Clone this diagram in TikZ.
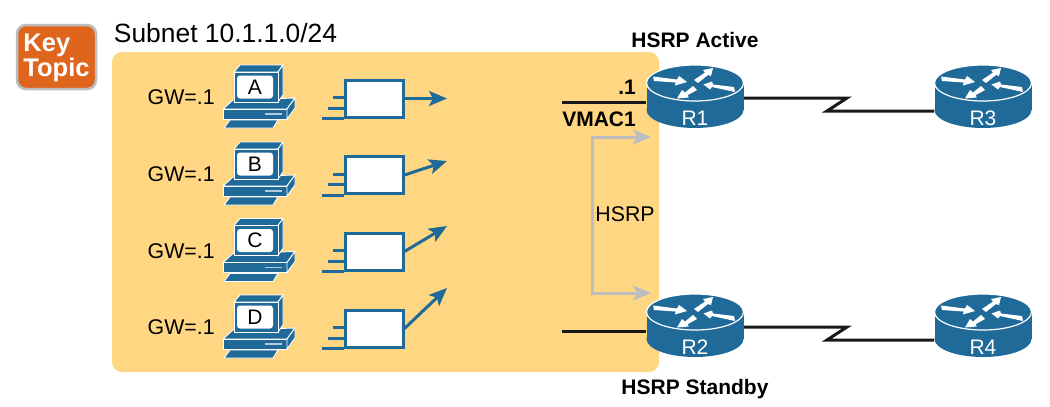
\documentclass[tikz,border=0pt]{standalone}
\usepackage{fontspec}
\setmainfont{Liberation Sans}
\usetikzlibrary{positioning,arrows.meta,calc}

\definecolor{ciscoblue}{HTML}{1F6A99}
\definecolor{subnetfill}{HTML}{FFD681}
\definecolor{keyorange}{HTML}{DF651D}
\definecolor{hsrpgray}{HTML}{BBBDC0}

\begin{document}
\begin{tikzpicture}[
  x=1pt,y=-1pt,
  txt/.style={font=\fontsize{21.3}{24}\selectfont,inner sep=0pt},
  boldtxt/.style={font=\fontsize{21}{24}\selectfont\bfseries,inner sep=0pt},
  subnet/.style={fill=subnetfill,rounded corners=10pt},
  keytopic/.style={fill=keyorange,draw=hsrpgray,line width=2.5pt,rounded corners=9pt,minimum width=79pt,minimum height=64pt,inner sep=0pt},
  keytxt/.style={text=white,align=left,inner sep=0pt,font=\fontsize{25.5}{25}\selectfont\bfseries},
  frm/.style={draw=ciscoblue,fill=white,line width=3pt,minimum width=58pt,minimum height=37pt,inner sep=0pt},
  tail/.style={draw=ciscoblue,line width=3pt},
  flow/.style={draw=ciscoblue,line width=3pt,-{Stealth[length=18pt,width=15pt,inset=4pt]}},
  hello/.style={draw=hsrpgray,line width=3pt,{Stealth[length=18pt,width=15pt,inset=4pt]}-{Stealth[length=18pt,width=15pt,inset=4pt]}},
  wire/.style={draw=black!90,line width=3pt},
  pics/router/.style={code={
    \fill[ciscoblue] (0,27) ellipse [x radius=48.5pt,y radius=18pt];
    \fill[ciscoblue] (-48.5,0) rectangle (48.5,27);
    \draw[fill=ciscoblue,draw=white,line width=1.2pt] (0,0) ellipse [x radius=48.5pt,y radius=18pt];
    % the four arrows on the lid
    \fill[white] (-42,-6.5) -- (-18,-3.5) -- (-16,-7) -- (-8,-1) -- (-20,2.5) -- (-19.5,-0.5) -- (-41,-2) -- cycle;
    \fill[white] (-1,-3) -- (10,-10.5) -- (8,-13) -- (18,-15) -- (16,-7) -- (13,-8) -- (3,0) -- cycle;
    \fill[white] (39,4) -- (18,1.5) -- (17,-1.5) -- (8.5,1.5) -- (15,6.5) -- (17,4) -- (40,9) -- cycle;
    \fill[white] (-2,3) -- (-10,9.5) -- (-13,7) -- (-18,15.5) -- (-6.5,14.5) -- (-7,12) -- (2,7) -- cycle;
    \node[text=white,font=\fontsize{21}{24}\selectfont,inner sep=0pt] (-lbl) at (0,35) {#1};
    \coordinate (-top) at (0,-18);
    \coordinate (-bot) at (0,45);
    \coordinate (-lan) at (-49,19);
    \coordinate (-wan) at (49,15);
    \coordinate (-far) at (-49,28);
  }},
  pics/pcbox/.style={code={
    % base and keyboard
    \draw[fill=ciscoblue,draw=white,line width=.9pt] (-32,22) -- (-22,13) -- (40,11) -- (32,22) -- cycle;
    \draw[fill=ciscoblue,draw=white,line width=.9pt] (-32,22) rectangle (32,32);
    \draw[fill=ciscoblue,draw=white,line width=.9pt] (32,22) -- (40,11) -- (40,21) -- (32,32) -- cycle;
    \draw[ciscoblue!35,line width=1.5pt] (10,27) -- (27,27);
    \draw[fill=ciscoblue,draw=white,line width=.9pt] (-31,41) -- (-25,33) -- (23,33) -- (18,41) -- cycle;
    % monitor
    \draw[fill=ciscoblue,draw=white,line width=.9pt] (-21,-15) -- (-15,-22) -- (28,-22) -- (23,-15) -- cycle;
    \draw[fill=ciscoblue,draw=white,line width=.9pt] (23,-15) -- (28,-22) -- (28,8) -- (23,15) -- cycle;
    \draw[fill=ciscoblue,draw=white,line width=.9pt] (-21,-15) rectangle (23,15);
    \node[fill=white,rounded corners=3pt,minimum width=36pt,minimum height=23pt,inner sep=0pt,
          font=\fontsize{21}{24}\selectfont] (-scr) at (0,0) {#1};
  }},
]

% ===== subnet and key topic =====
\node[keytopic] (key) at (56.5,57) {};
\node[keytxt] (keyL) at (56.5,57.5) {Key\\Topic};
\node[inner sep=0pt,font=\fontsize{26.4}{30}\selectfont] (subT) at (225.5,33) {Subnet 10.1.1.0/24};
\fill[subnet] (112,52) rectangle (659,372);

% ===== hosts =====
\pic (pcA) at (255,87) {pcbox=A};
\pic (pcB) at (255,164) {pcbox=B};
\pic (pcC) at (255,240.5) {pcbox=C};
\pic (pcD) at (255,317) {pcbox=D};
\node[txt,left=22pt of pcA-scr,yshift=-10.5pt] (gwA) {GW=.1};
\node[txt,left=22pt of pcB-scr,yshift=-10.5pt] (gwB) {GW=.1};
\node[txt,left=22pt of pcC-scr,yshift=-10.5pt] (gwC) {GW=.1};
\node[txt,left=22pt of pcD-scr,yshift=-10.5pt] (gwD) {GW=.1};

% ===== frames =====
\node[frm] (frmA) at (374,98.5) {};
\node[frm] (frmB) at (374,175) {};
\node[frm] (frmC) at (374,251.5) {};
\node[frm] (frmD) at (374,328.5) {};
\draw[tail] (frmA.south west) -- ++(-22,0);
\draw[tail] ($(frmA.south west)+(0,-10.5)$) -- ++(-16,0);
\draw[tail] ($(frmA.south west)+(0,-21)$) -- ++(-11,0);
\draw[tail] (frmB.south west) -- ++(-22,0);
\draw[tail] ($(frmB.south west)+(0,-10.5)$) -- ++(-16,0);
\draw[tail] ($(frmB.south west)+(0,-21)$) -- ++(-11,0);
\draw[tail] (frmC.south west) -- ++(-22,0);
\draw[tail] ($(frmC.south west)+(0,-10.5)$) -- ++(-16,0);
\draw[tail] ($(frmC.south west)+(0,-21)$) -- ++(-11,0);
\draw[tail] (frmD.south west) -- ++(-22,0);
\draw[tail] ($(frmD.south west)+(0,-10.5)$) -- ++(-16,0);
\draw[tail] ($(frmD.south west)+(0,-21)$) -- ++(-11,0);

% ===== frames to the default gateway =====
\coordinate (tipA) at (447,98.5);
\coordinate (tipB) at (447,161);
\coordinate (tipC) at (447,226);
\coordinate (tipD) at (447,288);
\draw[flow] (frmA.east) -- (tipA);
\draw[flow] (frmB.east) -- (tipB);
\draw[flow] (frmC.east) -- (tipC);
\draw[flow] (frmD.east) -- (tipD);

% ===== routers =====
\pic (R1) at (695,83) {router=R1};
\pic (R2) at (695,312) {router=R2};
\pic (R3) at (983,83) {router=R3};
\pic (R4) at (983,312) {router=R4};
\node[boldtxt,above=17pt of R1-top] (actT) {HSRP Active};
\node[boldtxt,below=22pt of R2-bot] (stbT) {HSRP Standby};

% ===== LAN stubs =====
\coordinate (stub1) at (562,102);
\coordinate (stub2) at (562,331);
\draw[wire] (stub1) -- (R1-lan);
\draw[wire] (stub2) -- (R2-lan);
\node[boldtxt,anchor=base east] (vip) at (636,94) {.1};
\node[boldtxt,anchor=base east] (vmac) at (636,126) {VMAC1};

% ===== serial links =====
\draw[wire] (R1-wan) -- ++(103,0) -- ++(-20,13) -- (R3-far);
\draw[wire] (R2-wan) -- ++(103,0) -- ++(-20,13) -- (R4-far);

% ===== HSRP hellos =====
\coordinate (hsT) at (592,137);
\coordinate (hsB) at (592,293);
\coordinate (hsTtip) at (651,137);
\coordinate (hsBtip) at (651,293);
\draw[hello,line join=miter] (hsTtip) -- (hsT) -- (hsB) -- (hsBtip);
\node[txt] (hsrpL) at (625,214) {HSRP};

\useasboundingbox (0,0) rectangle (1050,407);
\end{tikzpicture}
\end{document}
